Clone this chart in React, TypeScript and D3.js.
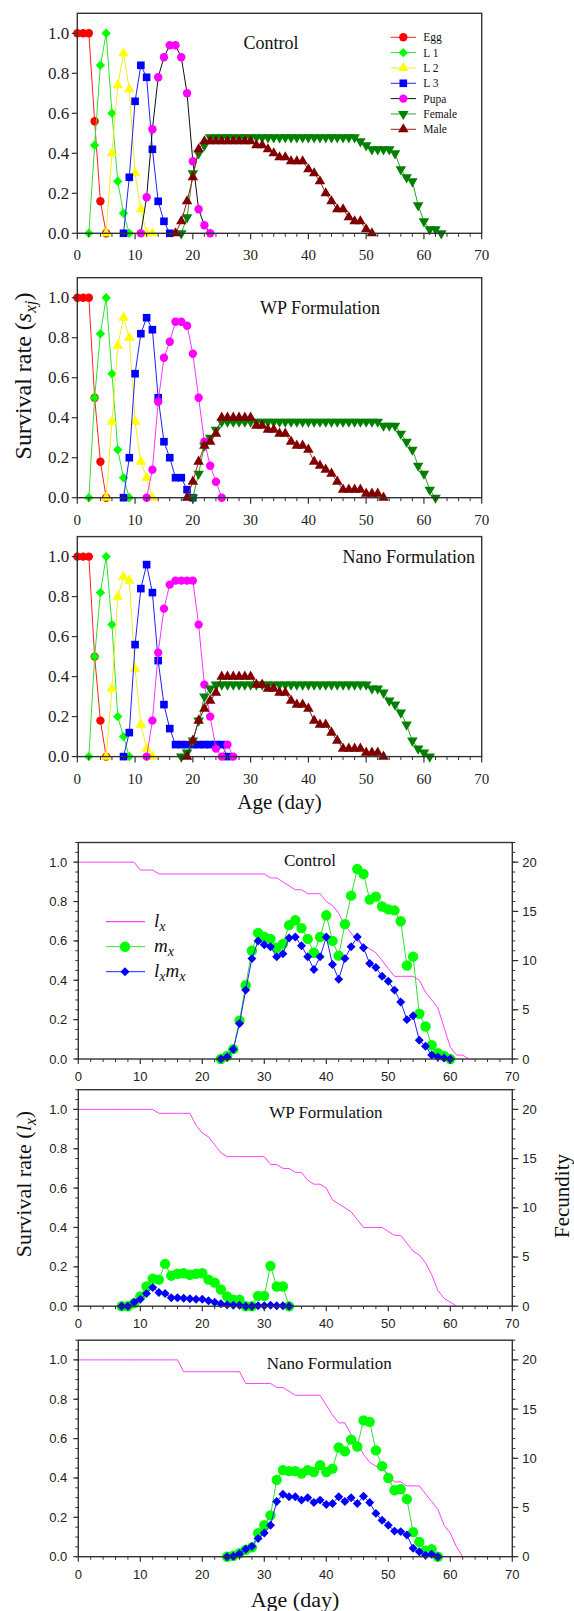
import React from "react";
import * as d3 from "d3";

// ---- age-stage survival (s_xj), first day of each series + daily values ----
const ctrlEgg = [1, 1, 1, 0.56, 0.16, 0];
const ctrlL1 = [0, 0.44, 0.84, 1.0, 0.6, 0.26, 0.1, 0];
const ctrlL2 = [0, 0.4, 0.74, 0.9, 0.72, 0.3, 0.12, 0, 0];
const ctrlL3 = [0, 0.28, 0.66, 0.84, 0.78, 0.42, 0.16, 0.06, 0];
const ctrlPupa = [0, 0.18, 0.52, 0.78, 0.88, 0.94, 0.94, 0.88, 0.7, 0.36, 0.12, 0.04, 0];
const ctrlFemale = [
  0, 0.08, 0.3, 0.4, 0.44,
  0.48, 0.48, 0.48, 0.48, 0.48, 0.48, 0.48, 0.48, 0.48, 0.48, 0.48, 0.48, 0.48,
  0.48, 0.48, 0.48, 0.48, 0.48, 0.48, 0.48, 0.48, 0.48, 0.48, 0.48, 0.48, 0.48,
  0.46, 0.44, 0.42, 0.42, 0.42, 0.42, 0.4, 0.32, 0.28, 0.26, 0.14, 0.06, 0.02, 0.02, 0,
];
const ctrlMale = [
  0, 0.06, 0.16, 0.28, 0.42,
  0.46, 0.46, 0.46, 0.46, 0.46, 0.46, 0.46, 0.46, 0.46,
  0.44, 0.44, 0.42, 0.4, 0.38, 0.38, 0.36, 0.36, 0.36, 0.32, 0.3, 0.26, 0.2, 0.16,
  0.12, 0.12, 0.08, 0.06, 0.06, 0.02, 0,
];
const ctrlStart = [0, 2, 5, 8, 11, 18, 17];

const wpEgg = [1, 1, 1, 0.5, 0.18, 0];
const wpL1 = [0, 0.5, 0.82, 1.0, 0.62, 0.24, 0.1, 0];
const wpL2 = [0, 0.38, 0.76, 0.9, 0.8, 0.38, 0.18, 0.1, 0];
const wpL3 = [0, 0.2, 0.62, 0.82, 0.9, 0.84, 0.5, 0.28, 0.2, 0.1, 0.1, 0.04, 0];
const wpPupa = [0, 0.14, 0.48, 0.7, 0.78, 0.88, 0.88, 0.86, 0.72, 0.5, 0.28, 0.16, 0.08, 0];
const wpFemale = [
  0, 0.12, 0.26, 0.3, 0.34,
  0.38, 0.38, 0.38, 0.38, 0.38, 0.38, 0.38, 0.38, 0.38, 0.38, 0.38, 0.38, 0.38, 0.38,
  0.38, 0.38, 0.38, 0.38, 0.38, 0.38, 0.38, 0.38, 0.38, 0.38, 0.38, 0.38, 0.38, 0.38,
  0.36, 0.36, 0.36, 0.32, 0.28, 0.24, 0.16, 0.12, 0.04, 0,
];
const wpMale = [
  0, 0.08, 0.18, 0.26, 0.28, 0.32,
  0.4, 0.4, 0.4, 0.4, 0.4, 0.4,
  0.36, 0.36, 0.34, 0.34, 0.32, 0.32, 0.28, 0.26, 0.26, 0.24, 0.18, 0.16, 0.14, 0.12,
  0.08, 0.04, 0.04, 0.04, 0.04, 0.02, 0.02, 0.02, 0,
];
const wpStart = [0, 2, 5, 8, 12, 20, 19];

const nanoEgg = [1, 1, 1, 0.5, 0.18, 0];
const nanoL1 = [0, 0.5, 0.82, 1.0, 0.66, 0.2, 0.1, 0];
const nanoL2 = [0, 0.34, 0.8, 0.9, 0.88, 0.44, 0.16, 0.04, 0];
const nanoL3 = [
  0, 0.12, 0.56, 0.84, 0.96, 0.82, 0.48, 0.26, 0.14,
  0.06, 0.06, 0.06, 0.06, 0.06, 0.06, 0.06, 0.06, 0.06, 0,
];
const nanoPupa = [0, 0.18, 0.52, 0.74, 0.86, 0.88, 0.88, 0.88, 0.88, 0.66, 0.36, 0.2, 0.04, 0, 0.06, 0];
const nanoFemale = [
  0, 0.02, 0.08, 0.18, 0.3, 0.34,
  0.36, 0.36, 0.36, 0.36, 0.36, 0.36, 0.36, 0.36, 0.36, 0.36, 0.36, 0.36, 0.36, 0.36,
  0.36, 0.36, 0.36, 0.36, 0.36, 0.36, 0.36, 0.36, 0.36, 0.36, 0.36, 0.36, 0.36,
  0.34, 0.34, 0.32, 0.28, 0.26, 0.22, 0.16, 0.08, 0.04, 0.02, 0,
];
const nanoMale = [
  0, 0.08, 0.18, 0.24, 0.28, 0.32,
  0.4, 0.4, 0.4, 0.4, 0.4, 0.4,
  0.36, 0.36, 0.34, 0.34, 0.32, 0.32, 0.28, 0.26, 0.26, 0.24, 0.18, 0.16, 0.16, 0.12,
  0.08, 0.04, 0.04, 0.04, 0.04, 0.02, 0.02, 0.02, 0,
];
const nanoStart = [0, 2, 5, 8, 12, 18, 19];

const stageNames = ["Egg", "L 1", "L 2", "L 3", "Pupa", "Female", "Male"];

// ---- lx (survival), mx and lxmx (fecundity) ----
const ctrlLx = [
  1, 1, 1, 1, 1, 1, 1, 1, 1, 1,
  0.96, 0.96, 0.96,
  0.94, 0.94, 0.94, 0.94, 0.94, 0.94, 0.94, 0.94, 0.94, 0.94, 0.94, 0.94, 0.94, 0.94, 0.94, 0.94, 0.94, 0.94,
  0.92, 0.92, 0.9, 0.88, 0.86, 0.86, 0.84, 0.84, 0.84, 0.8, 0.78, 0.74, 0.68, 0.64, 0.6, 0.58, 0.56,
  0.54, 0.5, 0.46, 0.42, 0.42, 0.42, 0.42, 0.4, 0.34, 0.3, 0.26, 0.16, 0.06, 0.02, 0.02, 0,
];
const ctrlMx = [
  0, 0.3, 1.0, 3.9, 7.5, 11.0, 12.8, 12.4, 12.2, 11.3, 11.7, 13.6, 14.1, 13.3, 12.2, 10.8, 12.4, 14.6, 12.0,
  10.5, 13.7, 16.6, 19.3, 18.8, 16.2, 16.5, 15.5, 15.2, 15.1, 14.0, 9.5, 10.4, 4.6, 3.3, 1.4, 0.6, 0.3, 0,
];
const ctrlLxMx = [
  0, 0.2, 1.0, 3.6, 7.0, 10.2, 12.0, 11.6, 11.4, 10.4, 10.7, 12.3, 12.4, 11.5, 10.4, 9.1, 10.4, 12.4, 9.6,
  8.1, 10.2, 11.4, 12.4, 11.3, 9.7, 9.3, 8.4, 7.9, 7.0, 5.8, 4.0, 4.4, 1.9, 1.3, 0.4, 0.2, 0.1, 0,
];
const ctrlFecStart = 23;

const wpLx = [
  1, 1, 1, 1, 1, 1, 1, 1, 1, 1, 1, 1, 1,
  0.98, 0.98, 0.98, 0.98, 0.98, 0.98,
  0.92, 0.88, 0.86, 0.82, 0.78,
  0.76, 0.76, 0.76, 0.76, 0.76, 0.76, 0.76,
  0.72, 0.72, 0.7, 0.7, 0.68, 0.68, 0.64, 0.62, 0.62, 0.6, 0.54, 0.52, 0.5, 0.48, 0.44, 0.4,
  0.4, 0.4, 0.4, 0.38, 0.36, 0.36, 0.32, 0.28, 0.26, 0.22, 0.16, 0.08, 0.04, 0.02, 0,
];
const wpMx = [
  0, 0, 0.3, 1.0, 2.0, 2.8, 2.7, 4.3, 3.1, 3.3, 3.35, 3.2, 3.3, 3.35,
  2.7, 2.4, 1.7, 1.0, 0.65, 0.65, 0, 0, 1.05, 1.05, 4.1, 2.0, 2.0, 0,
];
const wpLxMx = [
  0, 0, 0.4, 0.7, 1.3, 1.9, 1.4, 1.3, 0.85, 0.85, 0.8, 0.75, 0.7, 0.7,
  0.55, 0.4, 0.25, 0.15, 0.1, 0.1, 0, 0, 0.05, 0.05, 0.1, 0.05, 0.05, 0,
];
const wpFecStart = 7;

const nanoLx = [
  1, 1, 1, 1, 1, 1, 1, 1, 1, 1, 1, 1, 1, 1, 1, 1, 1,
  0.94, 0.94, 0.94, 0.94, 0.94, 0.94, 0.94, 0.94, 0.94, 0.94,
  0.88, 0.88, 0.88, 0.88, 0.88,
  0.86, 0.86, 0.84, 0.82, 0.82, 0.82, 0.82, 0.82, 0.77, 0.72, 0.68, 0.68, 0.62, 0.58, 0.52, 0.48,
  0.46, 0.45, 0.42, 0.38, 0.38, 0.36, 0.36, 0.36, 0.32, 0.28, 0.24, 0.16, 0.12, 0.05, 0,
];
const nanoMx = [
  0, 0.1, 0.35, 0.7, 0.95, 2.4, 3.2, 4.2, 7.8, 8.8, 8.7, 8.7, 8.45, 8.8, 8.6, 9.3, 8.6, 8.95,
  11.1, 10.7, 11.9, 11.2, 13.85, 13.7, 10.8, 9.2, 8.0, 6.75, 6.85, 5.85, 2.5, 1.5, 0.6, 0.75, 0,
];
const nanoLxMx = [
  0, 0.05, 0.3, 0.75, 1.05, 1.85, 2.4, 3.2, 5.6, 6.35, 6.1, 6.1, 5.75, 6.0, 5.5, 5.75, 5.3, 5.4,
  6.1, 5.6, 6.0, 5.4, 6.15, 5.5, 4.4, 3.7, 3.2, 2.6, 2.55, 2.2, 0.85, 0.5, 0.15, 0.25, 0,
];
const nanoFecStart = 24;

const xTicks = [0, 10, 20, 30, 40, 50, 60, 70];
const sTicks = [0, 0.2, 0.4, 0.6, 0.8, 1.0];
const fTicks = [0, 5, 10, 15, 20];

const SERIF = "'Liberation Serif', 'Times New Roman', serif";
const SANS = "'Liberation Sans', Arial, sans-serif";
const AXIS = "#333";

type Shape = "circle" | "square" | "up" | "down" | "diamond";

function Sym({ shape, size, fill, x, y }: { shape: Shape; size: number; fill: string; x: number; y: number }) {
  const type = shape === "circle" ? d3.symbolCircle : shape === "up" || shape === "down" ? d3.symbolTriangle : d3.symbolSquare;
  const rot = shape === "down" ? 180 : shape === "diamond" ? 45 : 0;
  const d = d3.symbol().type(type).size(size)() || "";
  return <path d={d} transform={`translate(${x},${y}) rotate(${rot})`} fill={fill} />;
}

const stageStyle: { shape: Shape; fill: string; line: string; size: number }[] = [
  { shape: "circle", fill: "#ff0000", line: "#ff2020", size: 55 },
  { shape: "diamond", fill: "#00ff00", line: "#30e030", size: 44 },
  { shape: "up", fill: "#ffff00", line: "#f0f020", size: 48 },
  { shape: "square", fill: "#0000ff", line: "#2020ff", size: 58 },
  { shape: "circle", fill: "#ff00ff", line: "#ff30ff", size: 55 },
  { shape: "down", fill: "#008000", line: "#30a030", size: 48 },
  { shape: "up", fill: "#800000", line: "#902020", size: 48 },
];

const TL = 77.3;
const TR = 481.7;
const TH = 220;

function StagePanel(props: {
  top: number;
  series: number[][];
  starts: number[];
  pupaLine: string;
  maleLine: string;
  title: string;
  tx: number;
  ty: number;
  anchor: "start" | "middle" | "end";
  legend?: boolean;
}) {
  const { top, series, starts } = props;
  const x = d3.scaleLinear().domain([0, 70]).range([TL, TR]);
  const y = d3.scaleLinear().domain([0, 1.1]).range([top + TH, top]);
  const line = d3
    .line<number[]>()
    .x((d) => x(d[0]))
    .y((d) => y(d[1]));
  const minor = d3.range(0, 71, 2).filter((v) => v % 10 !== 0);
  const bottom = top + TH;
  return (
    <g>
      {series.map((vals, si) => {
        const pts = vals.map((v, i) => [starts[si] + i, v]);
        const st = stageStyle[si];
        const lc = si === 4 ? props.pupaLine : si === 6 ? props.maleLine : st.line;
        return (
          <g key={si}>
            <path d={line(pts) || ""} fill="none" stroke={lc} strokeWidth={1} />
            {pts.map((p, i) => (
              <Sym key={i} shape={st.shape} size={st.size} fill={st.fill} x={x(p[0])} y={y(p[1])} />
            ))}
          </g>
        );
      })}
      <rect x={TL} y={top} width={TR - TL} height={TH} fill="none" stroke={AXIS} strokeWidth={1.4} />
      {xTicks.map((t) => (
        <g key={t}>
          <line x1={x(t)} x2={x(t)} y1={bottom} y2={bottom + 6} stroke={AXIS} strokeWidth={1.2} />
          <text x={x(t)} y={bottom + 27} textAnchor="middle" fontFamily={SERIF} fontSize={15} fill="#222">
            {t}
          </text>
        </g>
      ))}
      {minor.map((t) => (
        <line key={t} x1={x(t)} x2={x(t)} y1={bottom} y2={bottom + 3.5} stroke={AXIS} strokeWidth={1} />
      ))}
      {sTicks.map((t) => (
        <g key={t}>
          <line x1={TL - 5.5} x2={TL} y1={y(t)} y2={y(t)} stroke={AXIS} strokeWidth={1.2} />
          <text x={TL - 8} y={y(t) + 5.5} textAnchor="end" fontFamily={SERIF} fontSize={17} fill="#222">
            {t.toFixed(1)}
          </text>
        </g>
      ))}
      <text x={props.tx} y={props.ty} textAnchor={props.anchor} fontFamily={SERIF} fontSize={18} fill="#111">
        {props.title}
      </text>
      {props.legend &&
        stageNames.map((n, i) => {
          const ly = 37.3 + i * 15.33;
          const st = stageStyle[i];
          const lc = i === 4 ? props.pupaLine : i === 6 ? props.maleLine : st.line;
          return (
            <g key={n}>
              <line x1={390.7} x2={416} y1={ly} y2={ly} stroke={lc} strokeWidth={1} />
              <Sym shape={st.shape} size={st.size} fill={st.fill} x={403.3} y={ly} />
              <text x={423.3} y={ly + 4} fontFamily={SERIF} fontSize={11.5} fill="#111">
                {n}
              </text>
            </g>
          );
        })}
    </g>
  );
}

const BL = 78.3;
const BR = 512.3;
const BH = 216.5;

function FecPanel(props: {
  top: number;
  lx: number[];
  mx: number[];
  lxmx: number[];
  start: number;
  title: string;
  tx: number;
  ty: number;
  legend?: boolean;
}) {
  const { top } = props;
  const bottom = top + BH;
  const x = d3.scaleLinear().domain([0, 70]).range([BL, BR]);
  const yl = d3.scaleLinear().domain([0, 1.1]).range([bottom, top]);
  const yr = d3.scaleLinear().domain([0, 22]).range([bottom, top]);
  const lxLine = d3
    .line<number>()
    .x((_, i) => x(i))
    .y((d) => yl(d));
  const fLine = d3
    .line<number>()
    .x((_, i) => x(props.start + i))
    .y((d) => yr(d));
  const minorX = d3.range(0, 71, 2).filter((v) => v % 10 !== 0);
  const minorL = d3.range(0, 1.101, 0.05);
  const minorR = d3.range(0, 23, 1);
  return (
    <g>
      <path d={lxLine(props.lx) || ""} fill="none" stroke="#ff40ff" strokeWidth={1} />
      <path d={fLine(props.mx) || ""} fill="none" stroke="#30e030" strokeWidth={1} />
      {props.mx.map((v, i) => (
        <circle key={i} cx={x(props.start + i)} cy={yr(v)} r={5.2} fill="#00ff00" />
      ))}
      <path d={fLine(props.lxmx) || ""} fill="none" stroke="#2020ff" strokeWidth={1} />
      {props.lxmx.map((v, i) => (
        <Sym key={i} shape="diamond" size={40} fill="#0000ff" x={x(props.start + i)} y={yr(v)} />
      ))}
      <rect x={BL} y={top} width={BR - BL} height={BH} fill="none" stroke={AXIS} strokeWidth={1.4} />
      {xTicks.map((t) => (
        <g key={t}>
          <line x1={x(t)} x2={x(t)} y1={bottom} y2={bottom + 5} stroke={AXIS} strokeWidth={1.2} />
          <text x={x(t)} y={bottom + 22} textAnchor="middle" fontFamily={SANS} fontSize={13} fill="#222">
            {t}
          </text>
        </g>
      ))}
      {minorX.map((t) => (
        <line key={t} x1={x(t)} x2={x(t)} y1={bottom} y2={bottom + 3} stroke={AXIS} strokeWidth={1} />
      ))}
      {minorL.map((t, i) => (
        <line key={i} x1={BL - 3} x2={BL} y1={yl(t)} y2={yl(t)} stroke={AXIS} strokeWidth={1} />
      ))}
      {sTicks.map((t) => (
        <g key={t}>
          <line x1={BL - 5} x2={BL} y1={yl(t)} y2={yl(t)} stroke={AXIS} strokeWidth={1.2} />
          <text x={BL - 11} y={yl(t) + 4.5} textAnchor="end" fontFamily={SANS} fontSize={13} fill="#222">
            {t.toFixed(1)}
          </text>
        </g>
      ))}
      {minorR.map((t) => (
        <line key={t} x1={BR} x2={BR + 3} y1={yr(t)} y2={yr(t)} stroke={AXIS} strokeWidth={1} />
      ))}
      {fTicks.map((t) => (
        <g key={t}>
          <line x1={BR} x2={BR + 6} y1={yr(t)} y2={yr(t)} stroke={AXIS} strokeWidth={1.2} />
          <text x={BR + 10} y={yr(t) + 4.5} textAnchor="start" fontFamily={SANS} fontSize={13} fill="#222">
            {t}
          </text>
        </g>
      ))}
      <text x={props.tx} y={props.ty} fontFamily={SERIF} fontSize={17} fill="#111">
        {props.title}
      </text>
      {props.legend && (
        <g fontFamily={SERIF} fontSize={19} fontStyle="italic" fill="#111">
          <line x1={106} x2={145} y1={921.7} y2={921.7} stroke="#ff40ff" strokeWidth={1.2} />
          <text x={154} y={927}>
            l<tspan dy={4} fontSize={14}>x</tspan>
          </text>
          <line x1={106} x2={145} y1={946.7} y2={946.7} stroke="#30e030" strokeWidth={1} />
          <circle cx={125} cy={946.7} r={5.2} fill="#00ff00" />
          <text x={154} y={952}>
            m<tspan dy={4} fontSize={14}>x</tspan>
          </text>
          <line x1={106} x2={145} y1={971.7} y2={971.7} stroke="#2020ff" strokeWidth={1} />
          <Sym shape="diamond" size={40} fill="#0000ff" x={125} y={971.7} />
          <text x={154} y={977}>
            l<tspan dy={4} fontSize={14}>x</tspan>
            <tspan dy={-4}>m</tspan>
            <tspan dy={4} fontSize={14}>x</tspan>
          </text>
        </g>
      )}
    </g>
  );
}

export default function App() {
  return (
    <svg
      width={574}
      height={1611}
      style={{ position: "absolute", left: 0, top: 0, background: "#fff" }}
    >
      <StagePanel
        top={13.3}
        series={[ctrlEgg, ctrlL1, ctrlL2, ctrlL3, ctrlPupa, ctrlFemale, ctrlMale]}
        starts={ctrlStart}
        pupaLine="#111"
        maleLine="#902020"
        title="Control"
        tx={271}
        ty={49}
        anchor="middle"
        legend
      />
      <StagePanel
        top={277.7}
        series={[wpEgg, wpL1, wpL2, wpL3, wpPupa, wpFemale, wpMale]}
        starts={wpStart}
        pupaLine="#ff30ff"
        maleLine="#b03030"
        title="WP Formulation"
        tx={320}
        ty={314}
        anchor="middle"
      />
      <StagePanel
        top={536.6}
        series={[nanoEgg, nanoL1, nanoL2, nanoL3, nanoPupa, nanoFemale, nanoMale]}
        starts={nanoStart}
        pupaLine="#ff30ff"
        maleLine="#502020"
        title="Nano Formulation"
        tx={475}
        ty={562.5}
        anchor="end"
      />
      <text transform="translate(23,376) rotate(-90)" y={8} textAnchor="middle" fontFamily={SERIF} fontSize={24} fill="#111">
        Survival rate (<tspan fontStyle="italic">s</tspan>
        <tspan dy={5} fontSize={17} fontStyle="italic">xj</tspan>
        <tspan dy={-5}>)</tspan>
      </text>
      <text x={279.5} y={809} textAnchor="middle" fontFamily={SERIF} fontSize={21} fill="#111">
        Age (day)
      </text>

      <FecPanel top={842.5} lx={ctrlLx} mx={ctrlMx} lxmx={ctrlLxMx} start={ctrlFecStart} title="Control" tx={284} ty={866} legend />
      <FecPanel top={1089.7} lx={wpLx} mx={wpMx} lxmx={wpLxMx} start={wpFecStart} title="WP Formulation" tx={269.3} ty={1117.5} />
      <FecPanel top={1340.2} lx={nanoLx} mx={nanoMx} lxmx={nanoLxMx} start={nanoFecStart} title="Nano Formulation" tx={266.7} ty={1368.5} />

      <text transform="translate(23,1184) rotate(-90)" y={8} textAnchor="middle" fontFamily={SERIF} fontSize={22} fill="#111">
        Survival rate (<tspan fontStyle="italic">l</tspan>
        <tspan dy={5} fontSize={16} fontStyle="italic">x</tspan>
        <tspan dy={-5}>)</tspan>
      </text>
      <text transform="translate(562,1196) rotate(-90)" y={7} textAnchor="middle" fontFamily={SERIF} fontSize={21} fill="#111">
        Fecundity
      </text>
      <text x={295} y={1607} textAnchor="middle" fontFamily={SERIF} fontSize={22} fill="#111">
        Age (day)
      </text>
    </svg>
  );
}
